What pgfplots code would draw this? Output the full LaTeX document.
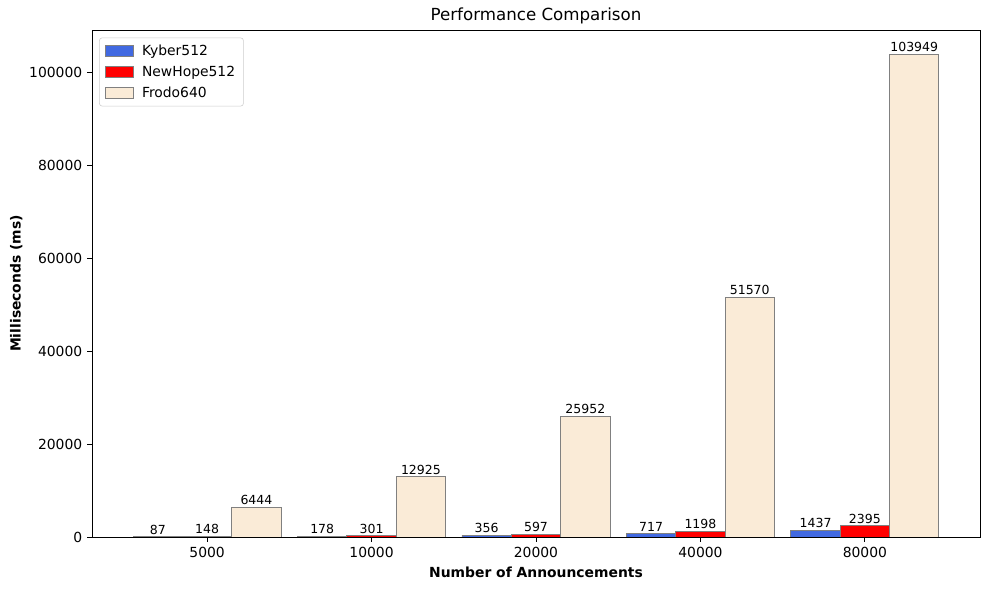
\documentclass[border=0pt]{standalone}
\usepackage{fontspec}
\setmainfont{DejaVu Sans}
\usepackage{pgfplots}
\pgfplotsset{compat=1.18}
\definecolor{kyber}{HTML}{4169E1}
\definecolor{newhope}{HTML}{FF0000}
\definecolor{frodo}{HTML}{FAEBD7}
\definecolor{edgegray}{HTML}{808080}
\definecolor{legframe}{HTML}{CCCCCC}
\begin{document}
\begin{tikzpicture}
\path[use as bounding box] (-66.24pt,-38.16pt) rectangle ++(712.08pt,424.8pt);
\begin{axis}[
  at={(0,0)}, anchor=south west,
  scale only axis,
  width=639.36pt, height=365.04pt,
  xmin=-0.7, xmax=4.7,
  ymin=0, ymax=109146,
  xtick={0,1,2,3,4},
  xticklabels={5000,10000,20000,40000,80000},
  ytick={0,20000,40000,60000,80000,100000},
  yticklabels={0,20000,40000,60000,80000,100000},
  scaled y ticks=false,
  tick align=outside,
  major tick length=3.5pt,
  tick style={black, line width=0.6pt},
  axis line style={line width=0.6pt},
  xtick pos=bottom, ytick pos=left,
  tick label style={font=\fontsize{10}{12}\selectfont},
  title={Performance Comparison},
  title style={font=\fontsize{12}{14}\selectfont, yshift=-5.5pt},
  xlabel={\bfseries Number of Announcements},
  ylabel={\bfseries Milliseconds (ms)},
  label style={font=\fontsize{10}{12}\selectfont},
  ylabel style={yshift=-2pt},
  ybar,
  bar width=0.3,
  legend image code/.code={\draw[#1, sharp corners] (0pt,-3.8pt) rectangle (20pt,3.8pt);},
  legend cell align=left,
  legend style={at={(0.008,0.985)}, anchor=north west, draw=legframe, rounded corners=2pt,
    font=\fontsize{10}{12}\selectfont, row sep=2pt, inner xsep=4pt, inner ysep=3pt,
    nodes={font=\fontsize{10}{12}\selectfont}},
  legend entries={\hspace{4pt}Kyber512,\hspace{4pt}NewHope512,\hspace{4pt}Frodo640},
  point meta=explicit symbolic,
  nodes near coords,
  every node near coord/.append style={font=\fontsize{9}{10}\selectfont, black, yshift=-2pt},
]
\addplot[fill=kyber, draw=edgegray, line width=0.7pt, bar shift=-0.3] coordinates {(0,87)[87] (1,178)[178] (2,356)[356] (3,717)[717] (4,1437)[1437]};
\addplot[fill=newhope, draw=edgegray, line width=0.7pt, bar shift=0] coordinates {(0,148)[148] (1,301)[301] (2,597)[597] (3,1198)[1198] (4,2395)[2395]};
\addplot[fill=frodo, draw=edgegray, line width=0.7pt, bar shift=0.3] coordinates {(0,6444)[6444] (1,12925)[12925] (2,25952)[25952] (3,51570)[51570] (4,103949)[103949]};
\end{axis}
\end{tikzpicture}
\end{document}
